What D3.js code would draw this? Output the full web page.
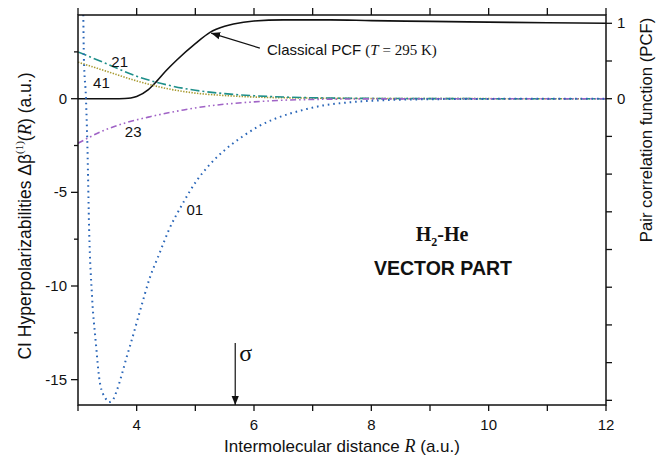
<!DOCTYPE html>
<html>
<head>
<meta charset="utf-8">
<script src="https://cdn.jsdelivr.net/npm/d3@7"></script>
<style>
  body { margin: 0; background: #fff; }
  text { font-family: "Liberation Sans", Arial, sans-serif; fill: #111; }
  .serif { font-family: "Liberation Serif", "Times New Roman", serif; }
</style>
</head>
<body>
<svg id="chart" width="659" height="461"></svg>
<script>
// curve 01 (blue dotted)
const r01 = [3.07, 3.09, 3.10, 3.136, 3.16, 3.19, 3.24, 3.30, 3.375, 3.47, 3.53, 3.59, 3.66, 3.745, 3.82, 3.90, 4.06, 4.22, 4.39, 4.55, 4.77, 5.02, 5.25, 5.52, 5.8, 6.07, 6.35, 6.63, 6.9, 7.18, 7.47, 7.8, 8.3, 9, 10, 12]
const v01 = [8, 4.5, 2.2, 0, -2.5, -7, -10.6, -12.9, -15.2, -16.0, -16.2, -16.1, -15.6, -14.75, -13.9, -13.06, -11.3, -9.6, -8.25, -7.0, -5.68, -4.39, -3.5, -2.69, -2.03, -1.49, -1.08, -0.78, -0.55, -0.36, -0.24, -0.15, -0.07, -0.03, -0.01, 0]
// curve 21 (teal dash-dot)
const r21 = [3, 3.5, 4, 4.5, 5, 5.5, 6, 6.5, 7, 8, 9, 10, 12]
const v21 = [2.5, 1.85, 1.2, 0.75, 0.45, 0.27, 0.16, 0.09, 0.05, 0.015, 0.005, 0.001, 0]
// curve 41 (olive dotted)
const r41 = [3, 3.5, 4, 4.5, 5, 5.5, 6, 7, 8, 9, 12]
const v41 = [1.95, 1.45, 0.95, 0.55, 0.3, 0.17, 0.09, 0.03, 0.01, 0.003, 0]
// curve 23 (purple dash-dot-dot)
const r23 = [3, 3.4, 3.8, 4.23, 4.36, 4.8, 5.2, 5.65, 6.0, 6.5, 7, 8, 12]
const v23 = [-2.38, -1.75, -1.3, -0.96, -0.87, -0.6, -0.4, -0.25, -0.17, -0.08, -0.04, -0.01, 0]
// classical pair correlation function (right axis)
const rPcf = [3, 3.6, 3.8, 3.9, 4.0, 4.2, 4.34, 4.5, 4.68, 5.0, 5.25, 5.5, 5.65, 6.0, 6.5, 7.3, 8, 9, 10, 11, 12]
const vPcf = [0, 0, 0.003, 0.01, 0.03, 0.12, 0.23, 0.37, 0.51, 0.73, 0.88, 0.96, 0.99, 1.03, 1.045, 1.045, 1.035, 1.025, 1.015, 1.007, 1.0]

const xTicks = [3, 4, 5, 6, 7, 8, 9, 10, 11, 12]
const xLabels = [4, 6, 8, 10, 12]
const yLeftMajor = [-15, -10, -5, 0]
const yLeftMinor = [-12.5, -7.5, -2.5, 2.5]
const yRightTicks = [-4, -3.5, -3, -2.5, -2, -1.5, -1, -0.5, 0, 0.5, 1]
const yRightLabels = [0, 1]
const sigmaR = 5.68

const plot = { left: 78, right: 606, top: 15, bottom: 405 }

const svg = d3.select('#chart')

const x = d3.scaleLinear().domain([3, 12]).range([plot.left, plot.right])
const yL = d3.scaleLinear().domain([-16.354, 4.469]).range([plot.bottom, plot.top])
const yR = d3.scaleLinear().domain([-4.062, 1.110]).range([plot.bottom, plot.top])

const defs = svg.append('defs')
defs.append('clipPath').attr('id', 'clip')
  .append('rect')
  .attr('x', plot.left).attr('y', plot.top)
  .attr('width', plot.right - plot.left).attr('height', plot.bottom - plot.top)
defs.append('marker')
  .attr('id', 'head')
  .attr('viewBox', '0 0 10 10')
  .attr('refX', 10).attr('refY', 5)
  .attr('markerWidth', 9).attr('markerHeight', 9)
  .attr('markerUnits', 'userSpaceOnUse')
  .attr('orient', 'auto')
  .append('path').attr('d', 'M0,1 L10,5 L0,9 Z').attr('fill', '#111')

// curves
const curves = svg.append('g').attr('clip-path', 'url(#clip)')
const lineL = d3.line().x(d => x(d[0])).y(d => yL(d[1])).curve(d3.curveMonotoneX)
const lineR = d3.line().x(d => x(d[0])).y(d => yR(d[1])).curve(d3.curveMonotoneX)

const series = [
  { r: r41, v: v41, color: '#a89a30', width: 1.6, dash: '1.4,1.4' },
  { r: r21, v: v21, color: '#1e8f8a', width: 1.6, dash: '9,3,2,3' },
  { r: r23, v: v23, color: '#a063c6', width: 1.6, dash: '6,3,1.6,3,1.6,3' },
  { r: r01, v: v01, color: '#2a66b8', width: 2, dash: '1.6,3.9' }
]

curves.append('path')
  .datum(d3.zip(rPcf, vPcf))
  .attr('d', lineR)
  .attr('fill', 'none')
  .attr('stroke', '#111')
  .attr('stroke-width', 1.6)

series.forEach(s => {
  curves.append('path')
    .datum(d3.zip(s.r, s.v))
    .attr('d', lineL)
    .attr('fill', 'none')
    .attr('stroke', s.color)
    .attr('stroke-width', s.width)
    .attr('stroke-dasharray', s.dash)
})

// frame
svg.append('rect')
  .attr('x', plot.left).attr('y', plot.top)
  .attr('width', plot.right - plot.left).attr('height', plot.bottom - plot.top)
  .attr('fill', 'none').attr('stroke', '#111').attr('stroke-width', 1.5)

// bottom axis
const gx = svg.append('g').attr('transform', `translate(0,${plot.bottom})`)
gx.selectAll('line').data(xTicks).join('line')
  .attr('x1', d => x(d)).attr('x2', d => x(d))
  .attr('y1', 0).attr('y2', 6)
  .attr('stroke', '#111').attr('stroke-width', 1.3)
gx.selectAll('text').data(xLabels).join('text')
  .attr('x', d => x(d)).attr('y', 25)
  .attr('text-anchor', 'middle')
  .style('font-size', '15px')
  .text(d => d)

// top axis
svg.append('g').attr('transform', `translate(0,${plot.top})`)
  .selectAll('line').data(xTicks).join('line')
  .attr('x1', d => x(d)).attr('x2', d => x(d))
  .attr('y1', 0).attr('y2', -7)
  .attr('stroke', '#111').attr('stroke-width', 1.3)

// left axis
const gyl = svg.append('g').attr('transform', `translate(${plot.left},0)`)
gyl.selectAll('line.major').data(yLeftMajor).join('line')
  .attr('class', 'major')
  .attr('x1', 0).attr('x2', -7)
  .attr('y1', d => yL(d)).attr('y2', d => yL(d))
  .attr('stroke', '#111').attr('stroke-width', 1.3)
gyl.selectAll('line.minor').data(yLeftMinor).join('line')
  .attr('class', 'minor')
  .attr('x1', 0).attr('x2', -4)
  .attr('y1', d => yL(d)).attr('y2', d => yL(d))
  .attr('stroke', '#111').attr('stroke-width', 1.3)
gyl.selectAll('text').data(yLeftMajor).join('text')
  .attr('x', -11).attr('y', d => yL(d) + 5)
  .attr('text-anchor', 'end')
  .style('font-size', '15px')
  .text(d => d)

// right axis
const gyr = svg.append('g').attr('transform', `translate(${plot.right},0)`)
gyr.selectAll('line').data(yRightTicks).join('line')
  .attr('x1', 0).attr('x2', 6)
  .attr('y1', d => yR(d)).attr('y2', d => yR(d))
  .attr('stroke', '#111').attr('stroke-width', 1.3)
gyr.selectAll('text').data(yRightLabels).join('text')
  .attr('x', 11).attr('y', d => yR(d) + 5)
  .style('font-size', '15px')
  .text(d => d)

// axis titles
svg.append('text')
  .attr('x', (plot.left + plot.right) / 2).attr('y', 452)
  .attr('text-anchor', 'middle')
  .style('font-size', '17px')
  .call(t => {
    t.append('tspan').text('Intermolecular distance ')
    t.append('tspan').attr('class', 'serif').style('font-style', 'italic').style('font-size', '18px').text('R')
    t.append('tspan').text(' (a.u.)')
  })

svg.append('text')
  .attr('transform', `translate(31,216) rotate(-90)`)
  .attr('text-anchor', 'middle')
  .style('font-size', '17.5px')
  .call(t => {
    t.append('tspan').text('CI Hyperpolarizabilities \u0394\u03b2')
    t.append('tspan').attr('class', 'serif').attr('dy', -8).style('font-size', '11px').text('(1)')
    t.append('tspan').attr('dy', 8).text('(')
    t.append('tspan').attr('class', 'serif').style('font-style', 'italic').style('font-size', '18.5px').text('R')
    t.append('tspan').text(') (a.u.)')
  })

svg.append('text')
  .attr('transform', `translate(652,130) rotate(-90)`)
  .attr('text-anchor', 'middle')
  .style('font-size', '16.7px')
  .text('Pair correlation function (PCF)')

// curve labels
const labels = [
  { t: '21', r: 3.71, v: 1.71 },
  { t: '41', r: 3.40, v: 0.55 },
  { t: '23', r: 3.94, v: -2.05 },
  { t: '01', r: 4.99, v: -6.2 }
]
svg.selectAll('text.lbl').data(labels).join('text')
  .attr('class', 'lbl')
  .attr('x', d => x(d.r)).attr('y', d => yL(d.v))
  .attr('text-anchor', 'middle')
  .style('font-size', '15px')
  .text(d => d.t)

// PCF annotation
svg.append('line')
  .attr('x1', x(6.1)).attr('y1', yR(0.67))
  .attr('x2', x(5.27)).attr('y2', yR(0.87))
  .attr('stroke', '#111').attr('stroke-width', 1.2)
  .attr('marker-end', 'url(#head)')
svg.append('text')
  .attr('x', 267).attr('y', 55)
  .style('font-size', '15px')
  .call(t => {
    t.append('tspan').text('Classical PCF ')
    t.append('tspan').attr('class', 'serif').text('(')
    t.append('tspan').attr('class', 'serif').style('font-style', 'italic').text('T')
    t.append('tspan').attr('class', 'serif').text(' = 295 K)')
  })

// sigma arrow
svg.append('line')
  .attr('x1', x(sigmaR)).attr('y1', yL(-13.04))
  .attr('x2', x(sigmaR)).attr('y2', plot.bottom)
  .attr('stroke', '#111').attr('stroke-width', 1.2)
  .attr('marker-end', 'url(#head)')
svg.append('text')
  .attr('class', 'serif')
  .attr('x', x(sigmaR) + 4).attr('y', yL(-13.04) + 18)
  .style('font-size', '24px')
  .text('\u03c3')

// system title
svg.append('text')
  .attr('class', 'serif')
  .attr('x', 442).attr('y', 241)
  .attr('text-anchor', 'middle')
  .style('font-size', '20px').style('font-weight', 'bold')
  .call(t => {
    t.append('tspan').text('H')
    t.append('tspan').attr('dy', 5).style('font-size', '12px').text('2')
    t.append('tspan').attr('dy', -5).text('-He')
  })
svg.append('text')
  .attr('x', 443).attr('y', 275)
  .attr('text-anchor', 'middle')
  .style('font-size', '19.5px').style('font-weight', 'bold')
  .text('VECTOR PART')
</script>
</body>
</html>
